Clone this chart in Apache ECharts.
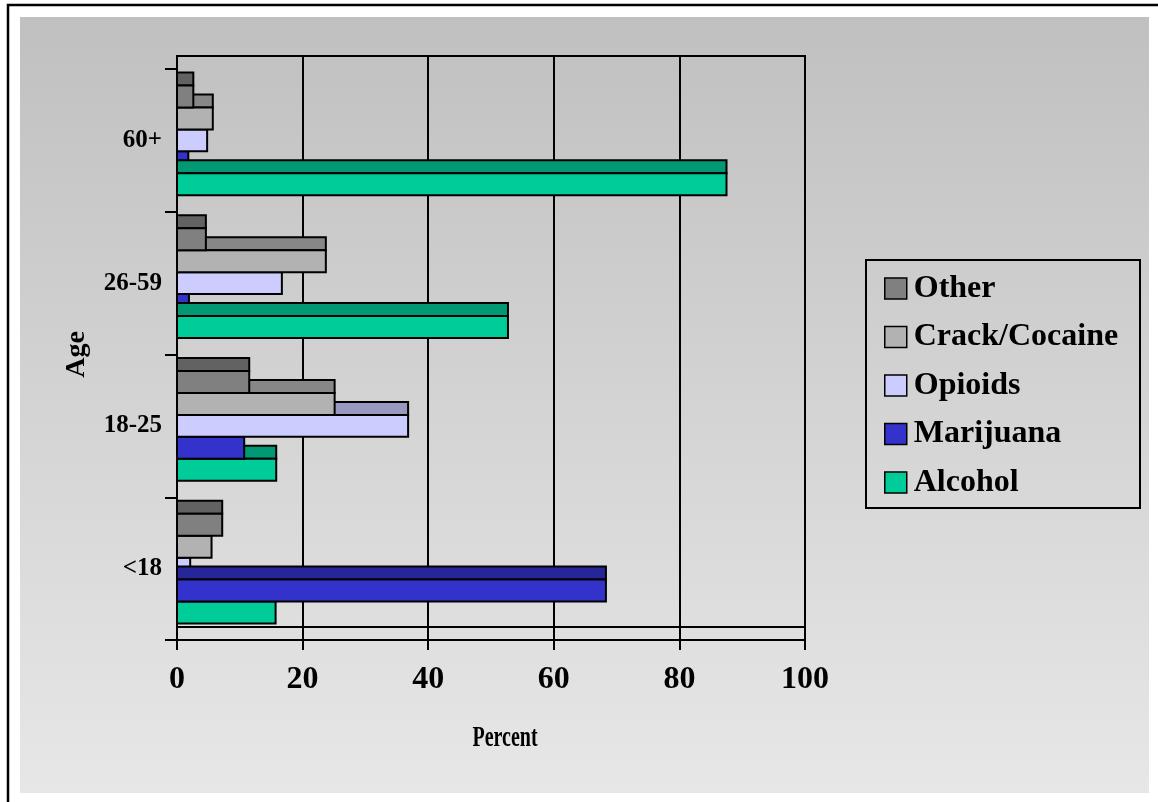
<!DOCTYPE html>
<html>
<head>
<meta charset="utf-8">
<script src="https://cdn.jsdelivr.net/npm/echarts@6/dist/echarts.min.js"></script>
<style>
  html, body { margin: 0; padding: 0; background: #ffffff; }
  #chart { width: 1158px; height: 802px; }
</style>
</head>
<body>
<div id="chart"></div>
<script>
// Age groups, bottom to top on the category axis
const ageGroups = ['<18', '18-25', '26-59', '60+'];
// Percent axis ticks
const percentTicks = [0, 20, 40, 60, 80, 100];

// Primary substance by age group (percent)
const other        = [7.2, 11.5, 4.6, 2.6];
const crackCocaine = [5.5, 25.1, 23.7, 5.7];
const opioids      = [2.1, 36.8, 16.7, 4.8];
const marijuana    = [68.3, 10.7, 1.9, 1.8];
const alcohol      = [15.7, 15.8, 52.7, 87.5];

const seriesNames = ['Other', 'Crack/Cocaine', 'Opioids', 'Marijuana', 'Alcohol'];
const seriesValues = [other, crackCocaine, opioids, marijuana, alcohol];

// Front face and (shaded) top face of each 3D bar
const frontColors = ['#808080', '#b2b2b2', '#ccccff', '#3333cc', '#00cc99'];
const topColors   = ['#626262', '#878787', '#9999bf', '#262699', '#009973'];

const FONT = '"Liberation Serif", "Times New Roman", serif';
const DEPTH = 13;          // visible depth of the bar tops, px
const CLUSTER = 0.77;      // share of a category band taken by the bar cluster

const chart = echarts.init(document.getElementById('chart'), null, { renderer: 'canvas' });

function barRenderer(slotIndex) {
  return function (params, api) {
    const v = api.value(0);
    const ci = api.value(1);
    const start = api.coord([0, ci]);
    const end = api.coord([v, ci]);
    const band = api.size([0, 1])[1];
    const slot = band * CLUSTER / seriesNames.length;
    const yFront = start[1] - slot * seriesNames.length / 2 + slotIndex * slot;
    const w = end[0] - start[0];
    // painter's order: bars nearer the eye (longer / higher) paint later
    const order = 100 + v / 2 - slotIndex * 15;
    return {
      type: 'group',
      children: [
        {
          type: 'rect',
          shape: { x: start[0], y: yFront - DEPTH, width: w, height: DEPTH },
          style: { fill: topColors[slotIndex], stroke: '#000', lineWidth: 2 },
          z2: order
        },
        {
          type: 'rect',
          shape: { x: start[0], y: yFront, width: w, height: slot },
          style: { fill: frontColors[slotIndex], stroke: '#000', lineWidth: 2 },
          z2: order
        }
      ]
    };
  };
}

const series = seriesNames.map((name, k) => ({
  name: name,
  type: 'custom',
  xAxisIndex: 0,
  yAxisIndex: 0,
  itemStyle: { color: frontColors[k] },
  renderItem: barRenderer(k),
  encode: { x: 0, y: 1 },
  data: ageGroups.map((g, i) => [seriesValues[k][i], i]),
  z: 5
}));

const xMin = percentTicks[0];
const xMax = percentTicks[percentTicks.length - 1];
const xStep = percentTicks[1] - percentTicks[0];

const option = {
  animation: false,
  textStyle: { fontFamily: FONT },
  graphic: [
    {
      type: 'rect', z: -100, silent: true,
      shape: { x: 20, y: 17, width: 1129, height: 776 },
      style: {
        fill: new echarts.graphic.LinearGradient(0, 0, 0, 1, [
          { offset: 0, color: '#c0c0c0' },
          { offset: 1, color: '#e7e7e7' }
        ])
      }
    },
    {
      type: 'rect', z: 50, silent: true,
      shape: { x: 8, y: 5, width: 1200, height: 1000 },
      style: { fill: 'none', stroke: '#000', lineWidth: 2.5 }
    },
    {
      type: 'rect', z: 50, silent: true,
      shape: { x: 866, y: 260, width: 274, height: 248 },
      style: { fill: 'none', stroke: '#000', lineWidth: 2 }
    },
    // value-axis title, set in a tall condensed face
    {
      type: 'text', z: 50, silent: true,
      x: 505, y: 739,
      scaleY: 1.42,
      style: {
        text: 'Percent',
        font: 'bold 20px ' + FONT,
        fill: '#000',
        align: 'center',
        verticalAlign: 'middle'
      }
    }
  ],
  legend: {
    orient: 'vertical',
    left: 884,
    top: 272,
    padding: 0,
    itemWidth: 22,
    itemHeight: 21,
    itemGap: 15.5,
    icon: 'rect',
    itemStyle: { borderColor: '#000', borderWidth: 1.5 },
    textStyle: {
      fontFamily: FONT, fontSize: 32, fontWeight: 'bold', color: '#000',
      lineHeight: 33, padding: [0, 0, 0, 2]
    },
    data: seriesNames
  },
  grid: [
    // front plane: bars, ticks, labels
    { left: 177, top: 69, width: 628, height: 571 },
    // back wall, raised by the bar depth
    { left: 177, top: 56, width: 628, height: 571, show: true, borderColor: '#000', borderWidth: 2, backgroundColor: 'transparent' }
  ],
  xAxis: [
    {
      gridIndex: 0, type: 'value', min: xMin, max: xMax, interval: xStep,
      axisLine: { show: true, lineStyle: { color: '#000', width: 2 } },
      axisTick: { show: true, length: 10, lineStyle: { color: '#000', width: 2 } },
      axisLabel: { fontFamily: FONT, fontSize: 32, fontWeight: 'bold', color: '#000', margin: 24 },
      splitLine: { show: true, lineStyle: { color: '#000', width: 2 } }
    },
    {
      gridIndex: 1, type: 'value', min: xMin, max: xMax, interval: xStep,
      axisLine: { show: true, lineStyle: { color: '#000', width: 2 } },
      axisTick: { show: false },
      axisLabel: { show: false },
      splitLine: { show: true, lineStyle: { color: '#000', width: 2 } }
    }
  ],
  yAxis: [
    {
      gridIndex: 0, type: 'category', data: ageGroups,
      axisLine: { show: true, lineStyle: { color: '#000', width: 2 } },
      axisTick: { show: true, length: 12, lineStyle: { color: '#000', width: 2 } },
      axisLabel: { fontFamily: FONT, fontSize: 25, fontWeight: 'bold', color: '#000', margin: 15 },
      splitLine: { show: false },
      name: 'Age',
      nameLocation: 'middle',
      nameGap: 86,
      nameRotate: 90,
      nameTextStyle: { fontFamily: FONT, fontSize: 28, fontWeight: 'bold', color: '#000' }
    },
    {
      gridIndex: 1, type: 'category', data: ageGroups,
      axisLine: { show: true, lineStyle: { color: '#000', width: 2 } },
      axisTick: { show: false },
      axisLabel: { show: false },
      splitLine: { show: false }
    }
  ],
  series: series
};

chart.setOption(option);
</script>
</body>
</html>
